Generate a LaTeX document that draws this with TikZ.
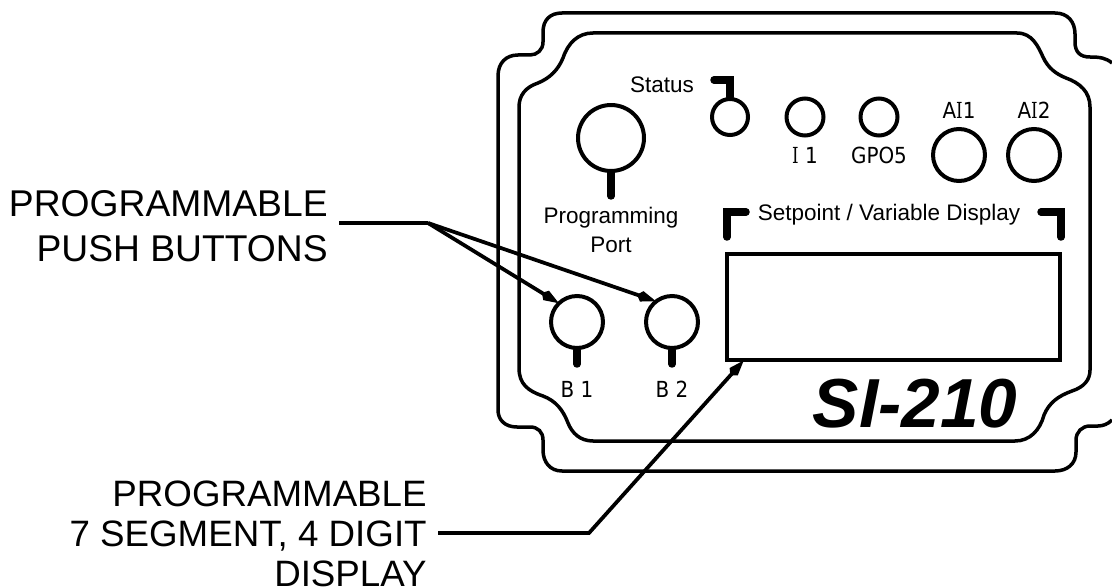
\documentclass[tikz,border=0pt]{standalone}
\usepackage{fontspec}
\setmainfont{Liberation Sans}
\newfontfamily\ledfont[FakeStretch=0.9]{DejaVu Sans}
\newfontfamily\ledserif[FakeStretch=0.75]{DejaVu Serif}
\newcommand{\serifI}{{\ledserif I}}
\usetikzlibrary{arrows.meta}
\tikzset{
	casing/.style={
		line width=0.07cm,
	},
	button/.style={
		draw,
		circle,
		line width=0.08cm,
		inner sep=0pt,
	},
	stem/.style={
		line width=0.15cm,
		line cap=round,
	},
	leader/.style={
		line width=0.075cm,
		shorten >=-0.04cm,
		-{Kite[length=0.4cm,width=0.22cm,inset=0.1cm]},
	},
	plain/.style={
		line width=0.075cm,
	},
	panel/.style={
		font=\fontsize{12.8}{16.4}\selectfont,
		align=center,
		inner sep=0pt,
	},
	led/.style={
		font=\ledfont\fontsize{12.6}{15}\selectfont,
		inner sep=0pt,
	},
	callout/.style={
		align=right,
		anchor=east,
		inner ysep=0pt,
		inner xsep=0.22cm,
	},
}

\begin{document}
\begin{tikzpicture}[x=0.02cm,y=-0.02cm]
		\useasboundingbox (0,0) rectangle (1112,588);

		% outer and inner edge of the housing
		\draw[casing] (1112,63) .. controls (1106,58) and (1100,57) .. (1090,57)
			.. controls (1080,57) and (1075,52) .. (1075,42) -- (1075,34)
			.. controls (1075,22) and (1068,13) .. (1055,13) -- (562,13)
			.. controls (550,13) and (543,20) .. (543,32) -- (543,42)
			.. controls (543,50) and (537,55) .. (530,55) -- (518,55)
			.. controls (506,55) and (498,63) .. (498,76) -- (498,410)
			.. controls (498,420) and (505,427) .. (517,427) -- (530,427)
			.. controls (538,427) and (543,432) .. (543,440) -- (543,450)
			.. controls (543,462) and (550,471) .. (562,471) -- (1055,471)
			.. controls (1067,471) and (1076,464) .. (1076,452) -- (1076,440)
			.. controls (1076,432) and (1082,426) .. (1090,426) -- (1098,426)
			.. controls (1103,426) and (1108,424) .. (1112,420);
		\draw[casing] (593,33) -- (1017,33)
			.. controls (1032,33) and (1038,46) .. (1043,57)
			.. controls (1048,68) and (1056,74) .. (1066,78)
			.. controls (1080,83) and (1090,92) .. (1090,107) -- (1090,370)
			.. controls (1090,380) and (1084,387) .. (1072,391)
			.. controls (1058,396) and (1049,403) .. (1044,415)
			.. controls (1040,430) and (1030,441) .. (1015,441) -- (593,441)
			.. controls (580,441) and (572,433) .. (568,423)
			.. controls (563,410) and (556,401) .. (543,396)
			.. controls (528,391) and (519,384) .. (519,368) -- (519,107)
			.. controls (519,95) and (526,87) .. (538,83)
			.. controls (550,78) and (558,70) .. (563,58)
			.. controls (568,43) and (578,33) .. (593,33) -- cycle;

		\node[button,minimum size=1.32cm] (port) at (611,138) {};
		\node[button,minimum size=0.72cm] (ledstatus) at (730,117) {};
		\node[button,minimum size=0.74cm] (ledone) at (805,117) {};
		\node[button,minimum size=0.74cm] (ledgpo) at (879,117) {};
		\node[button,minimum size=1.04cm] (aione) at (959,155) {};
		\node[button,minimum size=1.04cm] (aitwo) at (1034,155) {};
		\node[button,minimum size=1.04cm] (bone) at (577,322) {};
		\node[button,minimum size=1.04cm] (btwo) at (672,322) {};
		\node[draw,line width=0.08cm,minimum width=6.66cm,minimum height=2.12cm] (display) at (893.5,307) {};

		\draw[stem] (port.south) -- ++(0,23);
		\draw[stem] (bone.south) -- ++(0,14);
		\draw[stem] (btwo.south) -- ++(0,14);
		\draw[stem] (ledstatus.north) -- ++(0,-17) -- ++(-16,0);

		% corner marks over the display
		\draw[stem] (746,212) -- (727,212) -- (727,237);
		\draw[stem] (1041,212) -- (1061,212) -- (1061,237);

		\node[panel,anchor=base] (statuslabel) at (662,92) {Status};
		\node[panel,anchor=north] (portlabel) at (611,207) {Programming\\Port};
		\node[panel,anchor=base] (displabel) at (889,220) {Setpoint / Variable Display};
		\node[led,anchor=base] (onelabel) at (805,163) {\serifI{} 1};
		\node[led,anchor=base] (gpolabel) at (879,163) {GPO5};
		\node[led,anchor=base] (aionelabel) at (959,118) {A\serifI{}1};
		\node[led,anchor=base] (aitwolabel) at (1034,118) {A\serifI{}2};
		\node[led,anchor=base] (bonelabel) at (577,397) {B 1};
		\node[led,anchor=base] (btwolabel) at (672,397) {B 2};
		\node[inner sep=0pt,anchor=base,font=\fontsize{39.5}{45}\selectfont\bfseries\itshape] (model) at (915,427) {SI-210};

		\node[callout,font=\fontsize{21.2}{25.5}\selectfont] (pushlabel) at (339,226) {PROGRAMMABLE\\PUSH BUTTONS};
		\node[callout,font=\fontsize{20.9}{22.7}\selectfont] (seglabel) at (438,534) {PROGRAMMABLE\\7 SEGMENT, 4 DIGIT\\DISPLAY};

		\coordinate (pushknee) at (428,223);
		\coordinate (segknee) at (589,533);

		\draw[plain] (pushlabel.east |- pushknee) -- (pushknee);
		\draw[leader] (pushknee) -- (bone.135);
		\draw[leader] (pushknee) -- (btwo.130);
		\draw[leader] (seglabel.east |- segknee) -- (segknee) -- (display.200);

	\end{tikzpicture}
\end{document}
